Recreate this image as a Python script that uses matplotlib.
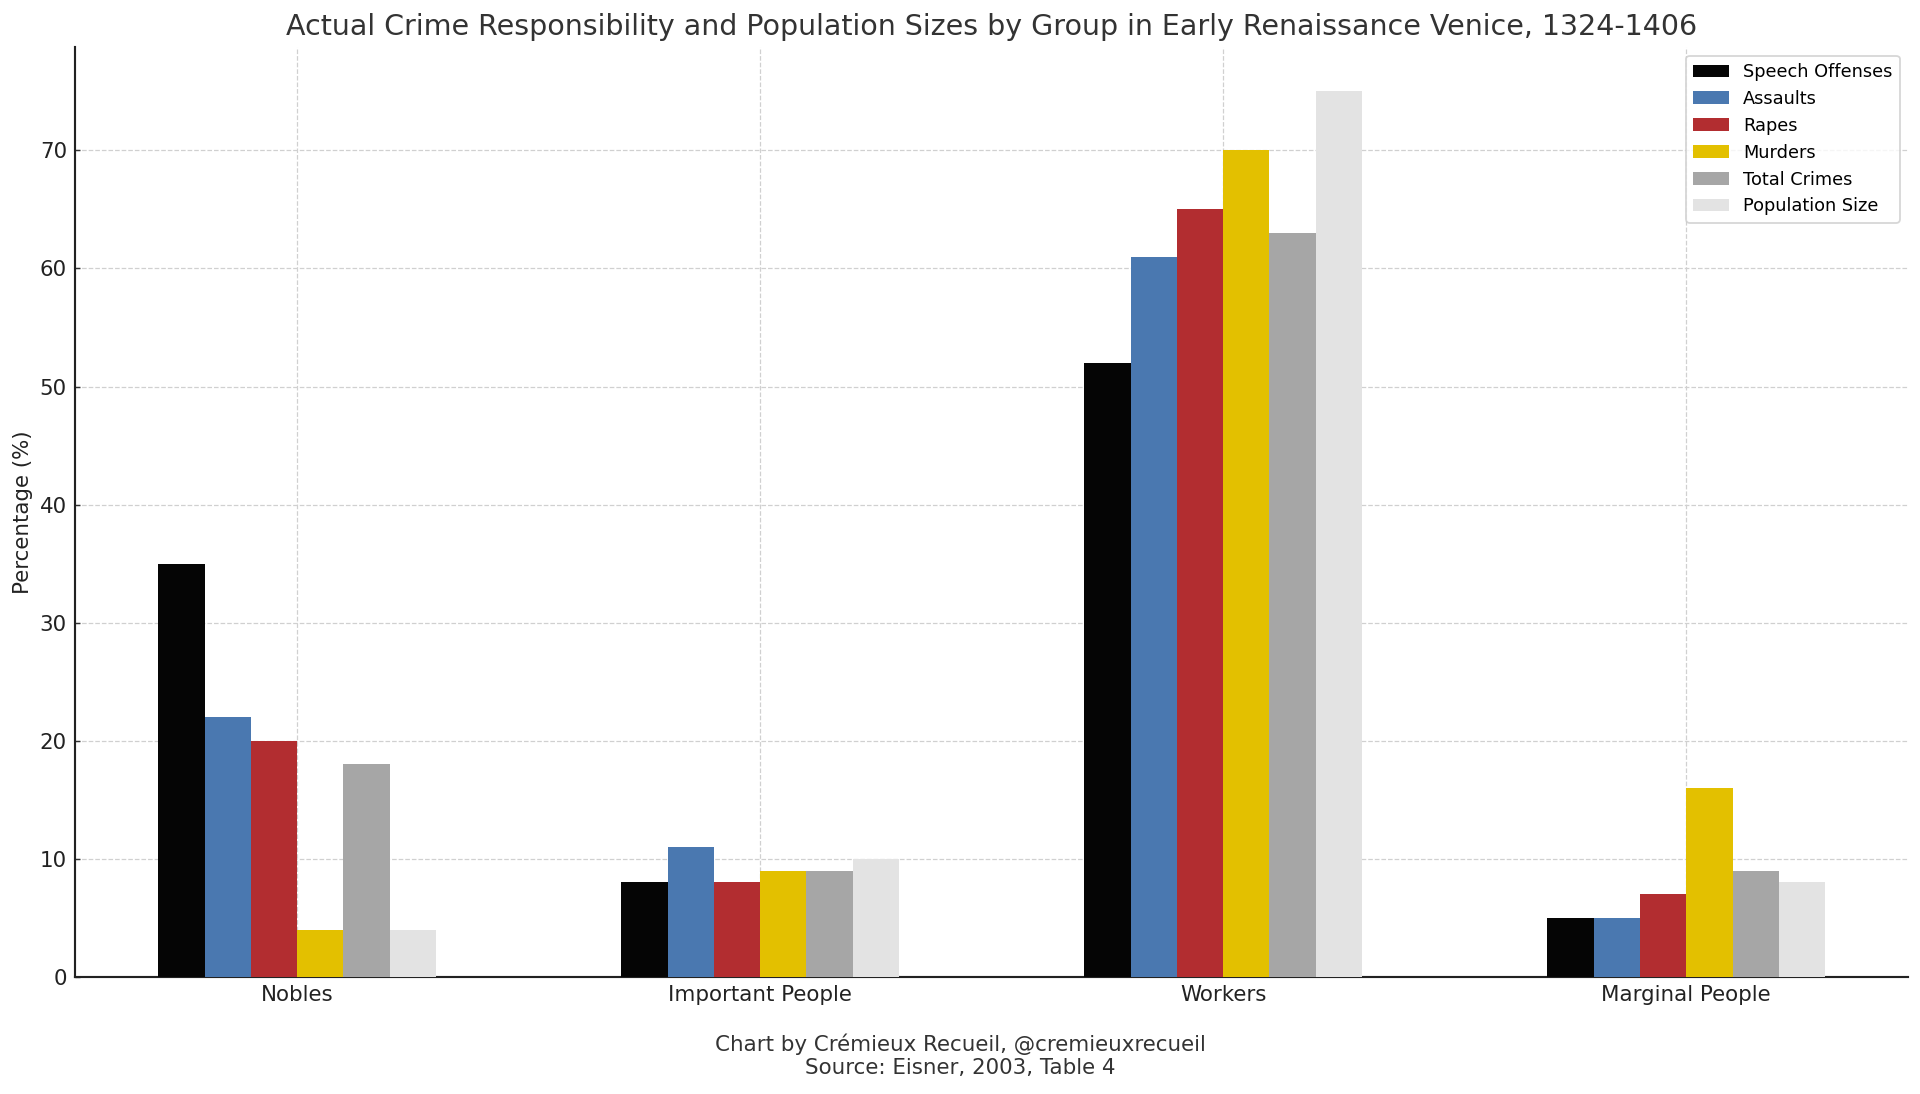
import matplotlib
matplotlib.use("Agg")
import matplotlib.pyplot as plt
import numpy as np

groups = ["Nobles", "Important People", "Workers", "Marginal People"]
series_names = ["Speech Offenses", "Assaults", "Rapes", "Murders", "Total Crimes", "Population Size"]
speech_offenses = [35, 8, 52, 5]
assaults = [22, 11, 61, 5]
rapes = [20, 8, 65, 7]
murders = [4, 9, 70, 16]
total_crimes = [18, 9, 63, 9]
population_size = [4, 10, 75, 8]
colors = ["#050505", "#4a78b0", "#b22d30", "#e3c000", "#a6a6a6", "#e3e3e3"]

series = [speech_offenses, assaults, rapes, murders, total_crimes, population_size]

plt.rcParams['font.family'] = ['DejaVu Sans']
DPI = 128
fig = plt.figure(figsize=(1920 / DPI, 1094 / DPI), dpi=DPI)
ax = fig.add_axes([0.039, 0.107, 0.955, 0.850])

x = np.arange(len(groups))
w = 0.1
for i, (name, vals, c) in enumerate(zip(series_names, series, colors)):
    ax.bar(x + (i - 2.5) * w, vals, w, label=name, color=c, zorder=3)

ax.set_xticks(x)
ax.set_xticklabels(groups, fontsize=12, color="#222222")
ax.tick_params(axis='both', direction='in', length=3, pad=4.5, color='#333333')
ax.tick_params(axis='y', labelsize=12, labelcolor="#222222")
ax.set_ylabel("Percentage (%)", fontsize=12, color="#222222", labelpad=4)
ax.set_ylim(0, 78.75)
ax.grid(True, linestyle='--', color='#d0d0d0', linewidth=0.7, zorder=0)
ax.spines['top'].set_visible(False)
ax.spines['right'].set_visible(False)
ax.spines['left'].set_linewidth(1.2)
ax.spines['bottom'].set_linewidth(1.2)
ax.spines['left'].set_color('#222222')
ax.spines['bottom'].set_color('#222222')
ax.set_title("Actual Crime Responsibility and Population Sizes by Group in Early Renaissance Venice, 1324-1406",
             fontsize=16, color="#333333", pad=7)
ax.legend(loc='upper right', fontsize=10)

fig.text(0.5, 0.035, "Chart by Crémieux Recueil, @cremieuxrecueil\nSource: Eisner, 2003, Table 4",
         ha='center', va='center', fontsize=12, color="#333333", linespacing=1.15)

fig.savefig("out.png", dpi=DPI)
